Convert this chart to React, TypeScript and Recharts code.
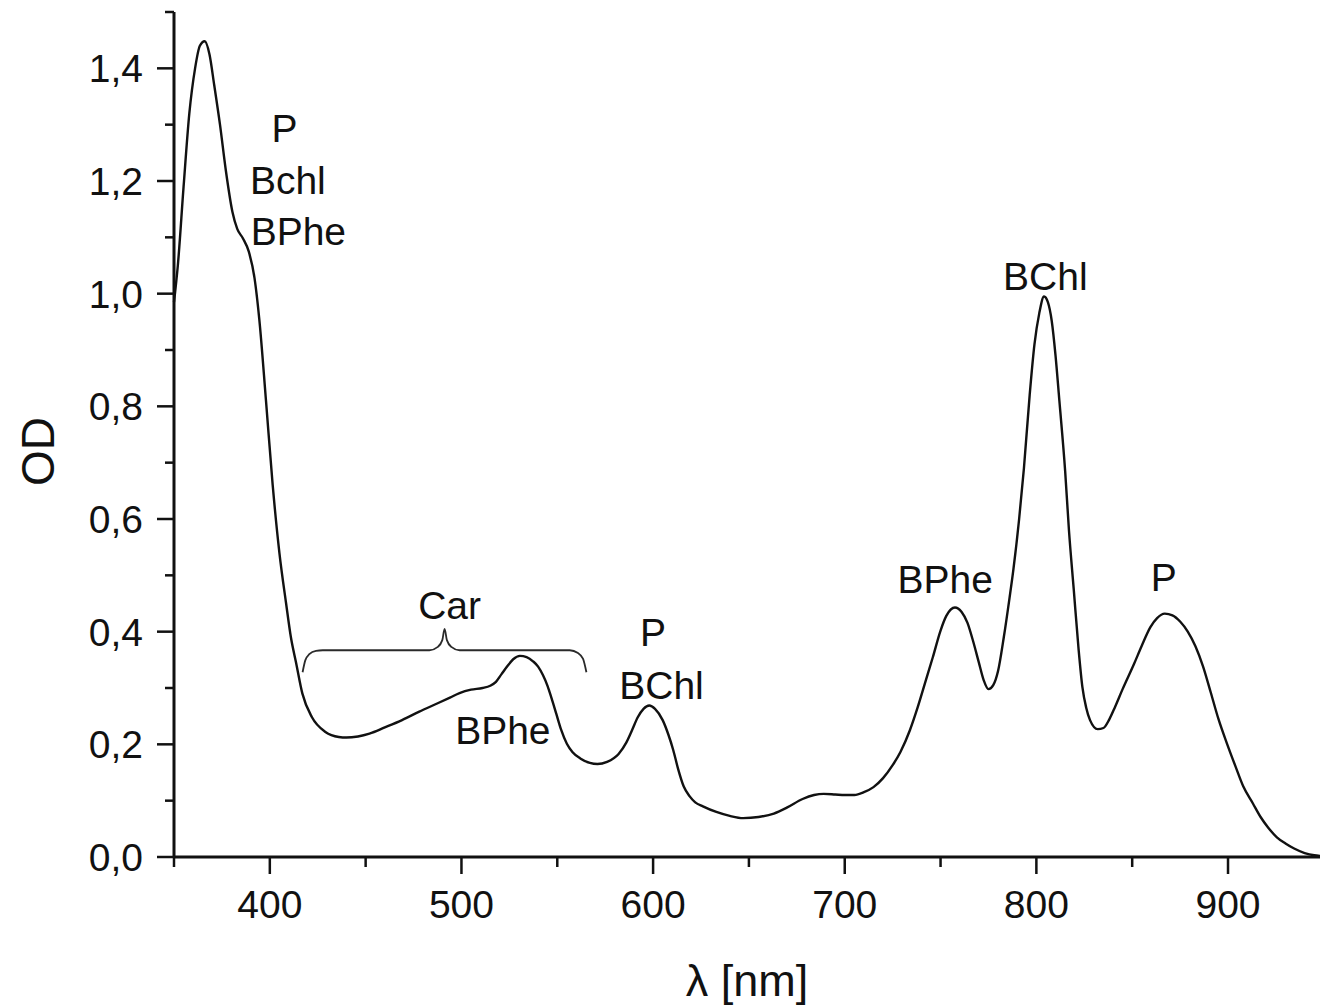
import { ComposedChart, Line, Scatter, XAxis, YAxis } from "recharts";

// absorption spectrum
const wavelength = [
  350, 352, 355, 358, 361, 363.5, 366, 368.5, 371, 374, 377, 380.5, 383, 386, 389, 392, 394.5, 398,
  401.5, 405, 408.5, 411, 413.7, 417, 422, 429, 436, 440, 446, 452, 460, 469, 478, 487, 494, 499,
  505, 511, 515, 518, 521, 524, 527, 530.5, 534, 537.5, 540, 542.5, 545, 547, 549.5, 552, 555, 558,
  562, 567, 571, 576, 582, 586, 589, 592, 595, 598, 601, 605, 608, 610.5, 613, 616, 619, 622, 626,
  633, 640, 647, 655, 663, 670, 678, 684, 689, 695, 700, 705, 710, 715, 720, 725, 729, 734, 738, 742,
  746, 750, 753, 757.5, 761, 764, 767, 770, 772.5, 775, 777.5, 780, 783, 786, 788, 791, 793.5, 796.5,
  799, 801.5, 804, 806, 808, 810, 812, 815, 817, 819.5, 822, 824, 826, 828, 832, 835, 838, 841, 845,
  851, 855, 859.5, 863, 867, 871, 875, 879, 883, 887, 891, 895, 899.6, 904, 908, 913, 917, 921,
  925.5, 930, 934.5, 940, 945, 948,
];
const od = [
  0.985, 1.05, 1.19, 1.32, 1.4, 1.44, 1.448, 1.425, 1.37, 1.3, 1.22, 1.145, 1.115, 1.098, 1.075,
  1.028, 0.955, 0.81, 0.66, 0.54, 0.45, 0.39, 0.345, 0.29, 0.248, 0.222, 0.213, 0.212, 0.214, 0.219,
  0.23, 0.243, 0.258, 0.272, 0.283, 0.291, 0.297, 0.3, 0.304, 0.311, 0.325, 0.339, 0.351, 0.357,
  0.355, 0.347, 0.338, 0.323, 0.303, 0.282, 0.254, 0.226, 0.201, 0.186, 0.175, 0.167, 0.165, 0.169,
  0.183, 0.203, 0.225, 0.248, 0.263, 0.269, 0.263, 0.243, 0.217, 0.19, 0.157, 0.125, 0.108, 0.097,
  0.09, 0.08, 0.073, 0.069, 0.071, 0.077, 0.088, 0.103, 0.11, 0.112, 0.111, 0.11, 0.11, 0.115, 0.124,
  0.14, 0.163, 0.186, 0.225, 0.265, 0.31, 0.355, 0.402, 0.428, 0.443, 0.435, 0.416, 0.383, 0.345,
  0.314, 0.298, 0.305, 0.33, 0.39, 0.46, 0.51, 0.6, 0.69, 0.82, 0.91, 0.965, 0.995, 0.985, 0.952, 0.89,
  0.81, 0.686, 0.58, 0.475, 0.37, 0.302, 0.265, 0.243, 0.227, 0.229, 0.244, 0.266, 0.298, 0.343,
  0.375, 0.408, 0.424, 0.432, 0.429, 0.418, 0.4, 0.374, 0.338, 0.292, 0.245, 0.2, 0.16, 0.125, 0.095,
  0.071, 0.052, 0.035, 0.024, 0.015, 0.007, 0.003, 0.002,
];

// curly brace over the carotenoid region
const braceNm = [
  417.1, 418.5, 420.6, 424.1, 427.6, 483.3, 487.7, 490, 491.2, 492.4, 494.7, 499, 556.5, 560.8,
  563.4, 565.2,
];
const braceOd = [
  0.328, 0.349, 0.36, 0.366, 0.367, 0.367, 0.373, 0.385, 0.405, 0.385, 0.373, 0.367, 0.367, 0.362,
  0.352, 0.328,
];

// band annotations
const labelText = ["P", "Bchl", "BPhe", "Car", "BPhe", "P", "BChl", "BPhe", "BChl", "P"];
const labelNm = [407.6, 409.4, 414.9, 493.8, 521.6, 600, 604.4, 752.4, 804.7, 866.5];
const labelOd = [1.295, 1.201, 1.112, 0.447, 0.225, 0.399, 0.305, 0.494, 1.032, 0.497];

const xTicks = [350, 400, 450, 500, 550, 600, 650, 700, 750, 800, 850, 900];
const yTicks = [0, 0.1, 0.2, 0.3, 0.4, 0.5, 0.6, 0.7, 0.8, 0.9, 1.0, 1.1, 1.2, 1.3, 1.4, 1.5];

const spectrum = wavelength.map((nm, i) => ({ nm, od: od[i] }));
const brace = braceNm.map((nm, i) => ({ nm, od: braceOd[i] }));
const labels = labelText.map((text, i) => ({ nm: labelNm[i], od: labelOd[i], text }));

const FONT = "'Liberation Sans', Arial, sans-serif";
const INK = "#111";
const TICK_SIZE = 17;
const X_MARGIN = 15;
const Y_MARGIN = 14;

function XTick(props: any) {
  const { x, y, payload } = props;
  const axisY = y - TICK_SIZE - X_MARGIN;
  const major = payload.value % 100 === 0;
  return (
    <g>
      <line x1={x} x2={x} y1={axisY} y2={axisY + (major ? TICK_SIZE : 10)} stroke={INK} strokeWidth={2.5} />
      {major && (
        <text x={x} y={y} dy="0.75em" textAnchor="middle" fontSize={39} fontFamily={FONT} fill={INK}>
          {payload.value}
        </text>
      )}
    </g>
  );
}

function YTick(props: any) {
  const { x, y, payload } = props;
  const axisX = x + TICK_SIZE + Y_MARGIN;
  const major = Math.round(payload.value * 10) % 2 === 0;
  return (
    <g>
      <line x1={axisX - (major ? TICK_SIZE : 9)} x2={axisX} y1={y} y2={y} stroke={INK} strokeWidth={2.5} />
      {major && (
        <text x={x} y={y} dy="0.36em" textAnchor="end" fontSize={39} fontFamily={FONT} fill={INK}>
          {payload.value.toFixed(1).replace(".", ",")}
        </text>
      )}
    </g>
  );
}

function BandLabel(props: any) {
  const text = props.payload?.text ?? props.text;
  return (
    <text
      x={props.cx}
      y={props.cy}
      dy="0.36em"
      textAnchor="middle"
      fontSize={39}
      fontFamily={FONT}
      fill={INK}
    >
      {text}
    </text>
  );
}

function XTitle(props: any) {
  const { viewBox } = props;
  return (
    <text
      x={viewBox.x + viewBox.width / 2}
      y={viewBox.y + 123}
      dy="0.36em"
      textAnchor="middle"
      fontSize={45}
      fontFamily={FONT}
      fill={INK}
    >
      λ [nm]
    </text>
  );
}

function YTitle(props: any) {
  const { viewBox } = props;
  const cx = viewBox.x + 37;
  const cy = viewBox.y + viewBox.height / 2 + 17;
  return (
    <text
      x={cx}
      y={cy}
      dy="0.36em"
      textAnchor="middle"
      fontSize={46}
      fontFamily={FONT}
      fill={INK}
      transform={`rotate(-90 ${cx} ${cy})`}
    >
      OD
    </text>
  );
}

export default function App() {
  return (
    <div style={{ position: "absolute", left: 0, top: 0, background: "#fff" }}>
      <ComposedChart width={1320} height={1005} margin={{ top: 12, right: 0, bottom: 0, left: 0 }}>
        <XAxis
          type="number"
          dataKey="nm"
          domain={[350, 948]}
          ticks={xTicks}
          interval={0}
          height={148}
          tickSize={TICK_SIZE}
          tickMargin={X_MARGIN}
          tickLine={false}
          axisLine={{ stroke: INK, strokeWidth: 3 }}
          tick={<XTick />}
          label={{ content: <XTitle /> }}
        />
        <YAxis
          type="number"
          domain={[0, 1.5]}
          ticks={yTicks}
          interval={0}
          width={174}
          tickSize={TICK_SIZE}
          tickMargin={Y_MARGIN}
          tickLine={false}
          axisLine={{ stroke: INK, strokeWidth: 3 }}
          tick={<YTick />}
          label={{ content: <YTitle /> }}
        />
        <Line
          data={brace}
          dataKey="od"
          type="monotone"
          stroke="#2a2a2a"
          strokeWidth={1.8}
          dot={false}
          activeDot={false}
          isAnimationActive={false}
        />
        <Line
          data={spectrum}
          dataKey="od"
          type="monotone"
          stroke={INK}
          strokeWidth={2.4}
          dot={false}
          activeDot={false}
          isAnimationActive={false}
        />
        <Scatter data={labels} dataKey="od" shape={<BandLabel />} isAnimationActive={false} />
      </ComposedChart>
    </div>
  );
}
